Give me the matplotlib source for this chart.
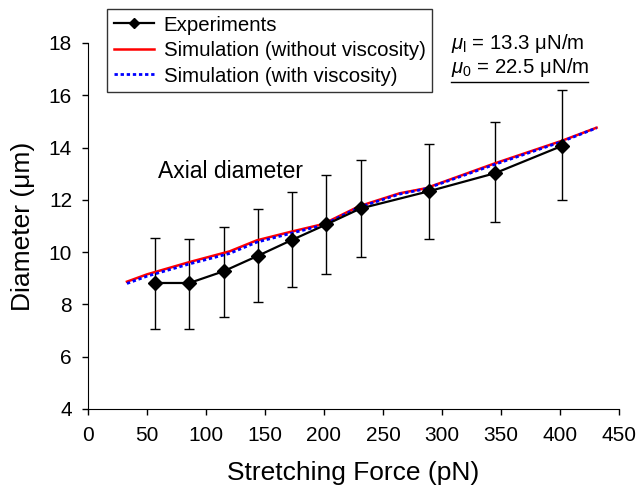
import matplotlib
matplotlib.use('Agg')
import matplotlib.pyplot as plt
from matplotlib.lines import Line2D

plt.rcParams['font.family'] = ['Liberation Sans', 'DejaVu Sans']
plt.rcParams['mathtext.fontset'] = 'custom'
plt.rcParams['mathtext.rm'] = 'Liberation Sans'
plt.rcParams['mathtext.it'] = 'Liberation Sans:italic'

# experiments
force = [57, 86, 115, 144, 173, 202, 231, 289, 345, 402]
diam = [8.82, 8.82, 9.27, 9.86, 10.47, 11.06, 11.67, 12.33, 13.02, 14.07]
err_hi = [10.55, 10.50, 10.95, 11.65, 12.30, 12.95, 13.52, 14.12, 14.97, 16.22]
err_lo = [7.06, 7.06, 7.52, 8.08, 8.65, 9.18, 9.83, 10.50, 11.15, 11.98]

# simulation curves
sim_f = [33, 50, 86, 120, 143, 172, 199, 230, 264, 286, 345, 401, 431]
sim_novisc = [8.87, 9.15, 9.62, 10.03, 10.45, 10.78, 11.07, 11.76, 12.25, 12.44, 13.40, 14.25, 14.76]
sim_visc = [8.80, 9.08, 9.55, 9.95, 10.38, 10.72, 11.03, 11.72, 12.22, 12.42, 13.36, 14.22, 14.75]

MU = '\u03bc'

fig = plt.figure(figsize=(6.39, 4.88), dpi=100)
ax = fig.add_axes([0.1377, 0.1619, 0.9687 - 0.1377, 0.9119 - 0.1619])

yerr = [[d - lo for d, lo in zip(diam, err_lo)], [hi - d for d, hi in zip(diam, err_hi)]]
ax.errorbar(force, diam, yerr=yerr, fmt='none', ecolor='black', elinewidth=1.0,
            capsize=3.5, capthick=1.0, zorder=2)
ax.plot(sim_f, sim_novisc, color='red', lw=1.8, zorder=3)
ax.plot(sim_f, sim_visc, color='blue', lw=2.0, ls=(0, (1.2, 1.0)), zorder=4)
ax.plot(force, diam, color='black', lw=1.6, marker='D', markersize=7, zorder=5)

ax.set_xlim(0, 450)
ax.set_ylim(4, 18)
ax.set_xticks(range(0, 451, 50))
ax.set_yticks(range(4, 19, 2))
ax.spines['top'].set_visible(False)
ax.spines['right'].set_visible(False)
ax.tick_params(direction='out', length=4.5, width=1, labelsize=15)
ax.tick_params(axis='x', pad=8)
ax.tick_params(axis='y', pad=7)
ax.set_xlabel('Stretching Force (pN)', fontsize=19, labelpad=11)
ax.set_ylabel('Diameter (' + MU + 'm)', fontsize=19, labelpad=10)

ax.text(0.132, 0.648, 'Axial diameter', transform=ax.transAxes, fontsize=16.5,
        va='center')
ax.text(0.684, 0.998, r'$\mu_{\rm l}$ = 13.3 ' + MU + 'N/m',
        transform=ax.transAxes, fontsize=14.7, va='center')
ax.text(0.684, 0.932, r'$\mu_0$ = 22.5 ' + MU + 'N/m',
        transform=ax.transAxes, fontsize=14.7, va='center')
ax.add_line(Line2D([0.684, 0.942], [0.893, 0.893], transform=ax.transAxes,
                   color='black', lw=1.0, clip_on=False))

handles = [Line2D([], [], color='black', lw=1.6, marker='D', markersize=5.5),
           Line2D([], [], color='red', lw=1.8),
           Line2D([], [], color='blue', lw=2.0, ls=(0, (1.2, 1.0)))]
labels = ['Experiments', 'Simulation (without viscosity)', 'Simulation (with viscosity)']
leg = fig.legend(handles, labels, loc='upper left', bbox_to_anchor=(0.1675, 0.9816),
                 fontsize=14.7, frameon=True, fancybox=False, edgecolor='black',
                 handlelength=2.0, handletextpad=0.45, labelspacing=0.32,
                 borderpad=0.32, borderaxespad=0)
leg.get_frame().set_linewidth(1.0)

fig.savefig('out.png', dpi=100)
